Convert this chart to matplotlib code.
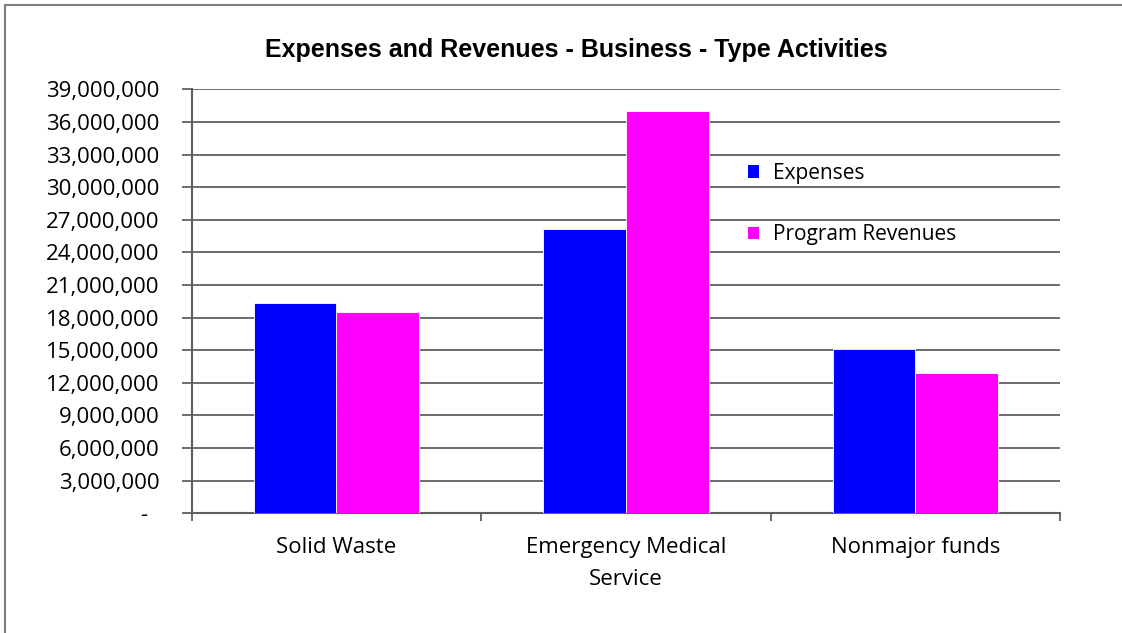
import numpy as np
import matplotlib
matplotlib.use("Agg")
import matplotlib.pyplot as plt
from matplotlib.patches import Patch
from matplotlib.lines import Line2D
from matplotlib.ticker import FuncFormatter, MultipleLocator, FixedLocator

# Business-type activities, dollars
categories = ["Solid Waste", "Emergency Medical\nService", "Nonmajor funds"]
expenses = [19_300_000, 26_180_000, 15_100_000]
program_revenues = [18_540_000, 36_980_000, 12_890_000]
series_names = ["Expenses", "Program Revenues"]
colors = ["#0000FF", "#FF00FF"]
grid_col = "#606060"

label_font = "Open Sans"
title_font = "Liberation Sans"

fig = plt.figure(figsize=(11.22, 6.33), dpi=100)
ax = fig.add_axes([191.7 / 1122, 1 - 513.3 / 633, (1060 - 191.7) / 1122, (513.3 - 89.3) / 633])

x = np.arange(len(categories))
w = 1 / 3.5
ax.bar(x - w / 2, expenses, w, color=colors[0], edgecolor="white", linewidth=0.6, zorder=3)
ax.bar(x + w / 2, program_revenues, w, color=colors[1], edgecolor="white", linewidth=0.6, zorder=3)

ax.set_xlim(-0.5, len(categories) - 0.5)
ax.set_ylim(0, 39_000_000)
ax.yaxis.set_major_locator(MultipleLocator(3_000_000))


def money(v, pos):
    if v == 0:
        return "-  "
    return f"{v:,.0f}"


ax.yaxis.set_major_formatter(FuncFormatter(money))
ax.grid(axis="y", color=grid_col, linewidth=1.3, zorder=0)
ax.set_axisbelow(True)

# category boundaries get the ticks, names sit between them
ax.xaxis.set_major_locator(FixedLocator(np.arange(-0.5, len(categories), 1.0)))
ax.xaxis.set_major_formatter(FuncFormatter(lambda v, p: ""))
ax.xaxis.set_minor_locator(FixedLocator(x))
ax.set_xticklabels(categories, minor=True, fontfamily=label_font, fontsize=16, linespacing=1.7)
ax.tick_params(axis="x", which="major", length=6, width=1.3, color=grid_col, direction="out")
ax.tick_params(axis="x", which="minor", length=0, pad=17)
ax.tick_params(axis="y", length=7, width=1.3, color=grid_col, pad=16, labelsize=16)
for t in ax.get_yticklabels():
    t.set_fontfamily(label_font)

for s in ["top", "right"]:
    ax.spines[s].set_visible(False)
for s in ["left", "bottom"]:
    ax.spines[s].set_color(grid_col)
    ax.spines[s].set_linewidth(1.5)

handles = [Patch(facecolor=c, edgecolor="none") for c in colors]
fig.legend(handles, series_names, loc="center left", bbox_to_anchor=(729 / 1122, 1 - 204 / 633),
           frameon=False, prop={"family": label_font, "size": 15},
           handlelength=0.55, handleheight=0.55, handletextpad=0.65, labelspacing=1.95)

fig.text(576 / 1122, 1 - 50 / 633, "Expenses and Revenues - Business - Type Activities",
         ha="center", va="center", fontfamily=title_font, fontweight="bold", fontsize=18)

# chart border (left and top edges fall inside the image)
fig.add_artist(Line2D([5 / 1122, 5 / 1122], [0, 1 - 5 / 633], color="#7f7f7f", linewidth=1.5,
                      transform=fig.transFigure))
fig.add_artist(Line2D([5 / 1122, 1], [1 - 5 / 633, 1 - 5 / 633], color="#7f7f7f", linewidth=1.5,
                      transform=fig.transFigure))

fig.savefig("out.png", dpi=100, facecolor="white")
